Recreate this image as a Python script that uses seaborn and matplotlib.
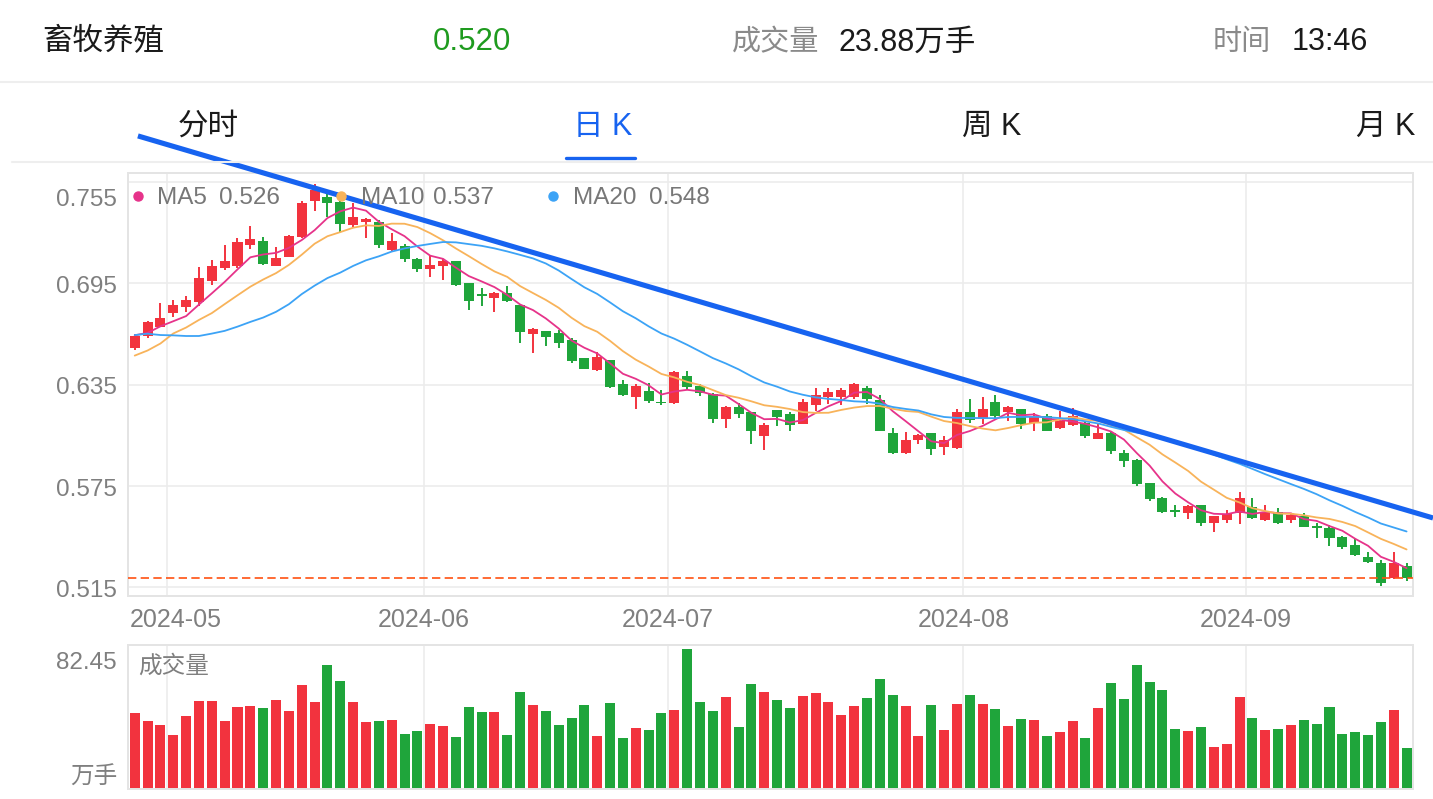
import numpy as np
import pandas as pd
import matplotlib
matplotlib.use("Agg")
import matplotlib.pyplot as plt
import seaborn as sns
from matplotlib.lines import Line2D
from matplotlib.transforms import ScaledTranslation

# ---------------- data ----------------
start_date = "2024-04-26"
end_date = "2024-09-20"
holidays = ["2024-05-01", "2024-05-02", "2024-05-03", "2024-06-10", "2024-09-16", "2024-09-17"]

open_ = [0.6565, 0.664, 0.6694, 0.6774, 0.6811, 0.6837, 0.6966, 0.7044, 0.7056, 0.7175,
         0.7204, 0.7056, 0.7107, 0.7226, 0.7437, 0.7463, 0.7433, 0.7294, 0.7314, 0.7314,
         0.7149, 0.7171, 0.7095, 0.7036, 0.7056, 0.7085, 0.6952, 0.6885, 0.6861, 0.6893,
         0.6821, 0.6649, 0.6665, 0.6655, 0.6615, 0.6506, 0.6434, 0.6494, 0.6355, 0.6275,
         0.6311, 0.6246, 0.6238, 0.6401, 0.6341, 0.6291, 0.6148, 0.6216, 0.6186, 0.6043,
         0.6196, 0.6176, 0.6117, 0.6226, 0.6277, 0.6275, 0.6275, 0.6331, 0.6256, 0.6063,
         0.5944, 0.6019, 0.6063, 0.598, 0.5974, 0.6186, 0.6143, 0.6246, 0.6186, 0.6206,
         0.6123, 0.6166, 0.6093, 0.6107, 0.6123, 0.6027, 0.6063, 0.5944, 0.5904, 0.5765,
         0.5676, 0.5603, 0.5587, 0.5636, 0.5527, 0.5547, 0.5587, 0.5622, 0.5547, 0.5591,
         0.5547, 0.5567, 0.5511, 0.5497, 0.5448, 0.5398, 0.5325, 0.5293, 0.520, 0.5273]
high = [0.665, 0.6728, 0.6831, 0.6849, 0.6873, 0.7048, 0.7089, 0.7177, 0.7218, 0.7288,
        0.7228, 0.7165, 0.7236, 0.7439, 0.7538, 0.7478, 0.7443, 0.7427, 0.7338, 0.7324,
        0.7248, 0.7185, 0.7099, 0.7119, 0.7095, 0.7085, 0.6952, 0.6921, 0.6901, 0.6937,
        0.6821, 0.6688, 0.6665, 0.6675, 0.6625, 0.651, 0.6543, 0.6496, 0.6375, 0.6351,
        0.6361, 0.6317, 0.643, 0.643, 0.6351, 0.6297, 0.6222, 0.6242, 0.6186, 0.6123,
        0.6196, 0.6186, 0.6262, 0.6331, 0.6331, 0.6331, 0.6361, 0.6341, 0.6285, 0.6093,
        0.6069, 0.6057, 0.6063, 0.6043, 0.6202, 0.6266, 0.6277, 0.6285, 0.6222, 0.6206,
        0.6182, 0.6172, 0.6192, 0.6212, 0.6133, 0.6113, 0.6073, 0.596, 0.5908, 0.5765,
        0.568, 0.5636, 0.5636, 0.5636, 0.5571, 0.5607, 0.571, 0.5676, 0.5636, 0.5616,
        0.5587, 0.5587, 0.5527, 0.5517, 0.5452, 0.5432, 0.5358, 0.5309, 0.5358, 0.5289]
low = [0.6555, 0.6623, 0.669, 0.6752, 0.6782, 0.6817, 0.694, 0.703, 0.7042, 0.7153,
       0.7062, 0.7054, 0.7105, 0.722, 0.7379, 0.7343, 0.7254, 0.7284, 0.722, 0.7161,
       0.7135, 0.7079, 0.702, 0.699, 0.697, 0.6933, 0.6792, 0.6813, 0.6782, 0.6841,
       0.6599, 0.6539, 0.6579, 0.6569, 0.648, 0.644, 0.643, 0.6329, 0.6281, 0.6202,
       0.6242, 0.6226, 0.6234, 0.6317, 0.6281, 0.6123, 0.6093, 0.6152, 0.5994, 0.5964,
       0.6103, 0.6073, 0.6113, 0.6192, 0.6232, 0.6226, 0.6262, 0.6232, 0.6073, 0.594,
       0.594, 0.5994, 0.5934, 0.5934, 0.597, 0.6123, 0.6113, 0.6146, 0.6133, 0.6083,
       0.6073, 0.6073, 0.6083, 0.6103, 0.6033, 0.6025, 0.594, 0.586, 0.575, 0.566,
       0.5587, 0.5561, 0.5551, 0.5511, 0.5472, 0.5527, 0.5523, 0.5551, 0.5543, 0.5523,
       0.5531, 0.5503, 0.5442, 0.5392, 0.5372, 0.5333, 0.5293, 0.5154, 0.5194, 0.5186]
close = [0.664, 0.6722, 0.6744, 0.6821, 0.6853, 0.6982, 0.7054, 0.7083, 0.7193, 0.7212,
         0.7066, 0.7101, 0.7232, 0.7425, 0.7504, 0.7427, 0.730, 0.7343, 0.7334, 0.7175,
         0.7204, 0.7095, 0.7036, 0.7062, 0.7081, 0.6942, 0.6847, 0.6877, 0.6893, 0.6847,
         0.6659, 0.6682, 0.6629, 0.6595, 0.649, 0.6444, 0.6514, 0.6335, 0.6285, 0.6341,
         0.6252, 0.624, 0.6424, 0.6335, 0.6297, 0.6148, 0.6216, 0.6176, 0.6073, 0.6107,
         0.6158, 0.6109, 0.6246, 0.6285, 0.6305, 0.6317, 0.6355, 0.6266, 0.6077, 0.5944,
         0.6023, 0.6053, 0.5968, 0.6023, 0.6186, 0.6139, 0.6206, 0.6162, 0.6216, 0.6113,
         0.6166, 0.6077, 0.6133, 0.6162, 0.6043, 0.6063, 0.5954, 0.5894, 0.5761, 0.5672,
         0.5593, 0.5595, 0.5632, 0.5527, 0.5567, 0.5581, 0.5676, 0.5557, 0.5591, 0.5527,
         0.5577, 0.5507, 0.5501, 0.5438, 0.5388, 0.5339, 0.5299, 0.5174, 0.5289, 0.520]
volume = [44.7, 39.8, 37.5, 31.5, 42.8, 51.9, 51.9, 40.0, 48.3, 48.7,
          47.4, 52.1, 45.6, 61.3, 51.3, 73.0, 63.3, 51.3, 39.4, 39.8,
          40.2, 32.1, 33.7, 37.9, 36.9, 30.5, 47.9, 45.0, 45.2, 31.5,
          57.2, 49.5, 45.9, 37.3, 41.6, 49.5, 31.1, 50.5, 29.8, 35.7,
          34.5, 44.6, 46.3, 82.45, 50.9, 45.7, 54.0, 36.1, 61.7, 57.0,
          52.5, 47.7, 54.6, 56.6, 50.9, 43.2, 48.9, 53.6, 64.5, 55.4,
          48.5, 30.8, 49.1, 34.5, 50.1, 55.0, 49.7, 47.1, 36.9, 41.0,
          40.4, 31.0, 33.5, 40.0, 30.0, 47.4, 62.3, 52.7, 73.2, 63.1,
          58.4, 35.1, 33.7, 36.3, 24.6, 26.2, 54.0, 41.6, 34.5, 34.9,
          37.5, 40.2, 37.9, 48.1, 32.0, 33.3, 31.4, 39.4, 46.3, 23.88]
# closes before the visible window (estimated from the MA curves at the left edge)
prior_close = [0.656, 0.690, 0.686, 0.693, 0.698, 0.677, 0.676, 0.669, 0.665, 0.655,
               0.642, 0.633, 0.6225, 0.650, 0.653, 0.665, 0.655, 0.667, 0.670]
ma_windows = [5, 10, 20]
ma_names = ["MA5", "MA10", "MA20"]
y_ticks = [0.515, 0.575, 0.635, 0.695, 0.755]
last_price = 0.520
trend_x = [0.25, 101.06]
trend_y = [0.7825, 0.5558]

header_name = "畜牧养殖"
header_price = "0.520"
header_vol_label = "成交量"
header_vol = "23.88万手"
header_time_label = "时间"
header_time = "13:46"
tabs = ["分时", "日 K", "周 K", "月 K"]
vol_top_label = "82.45"
vol_unit = "万手"
vol_title = "成交量"

# ---------------- styling ----------------
W, H = 1433, 799
sns.set_theme(style="white")
plt.rcParams["font.family"] = ["Liberation Sans", "Noto Sans CJK SC", "DejaVu Sans"]

RED = "#F2333E"
GREEN = "#1FA53B"
MA_COLORS = ["#E6338A", "#F8B35A", "#3CA3F6"]
GRID = "#ececec"
FRAME = "#e4e4e4"
GRAY = "#7f7f7f"
BLUE = "#1763F0"


def fx(px):
    return px / W


def fy(py):
    return 1 - py / H


days = pd.bdate_range(start_date, end_date)
days = days[~days.isin(pd.to_datetime(holidays))]
n = len(close)
idx = np.arange(n)
o = np.array(open_); c = np.array(close); h = np.array(high); l = np.array(low)
up = c >= o
colors = np.where(up, RED, GREEN)

all_close = pd.Series(prior_close + close)
mas = [all_close.rolling(w).mean().to_numpy()[-n:] for w in ma_windows]

month_pos = [i for i in range(1, n) if days[i].month != days[i - 1].month]
month_lab = [days[i].strftime("%Y-%m") for i in month_pos]
grid_x = [p - 0.5 for p in month_pos]

fig = plt.figure(figsize=(W / 100, H / 100), dpi=100)
fig.patch.set_facecolor("white")

# ---------------- main candle axes ----------------
L, R = 128.3, 1413
ax = fig.add_axes([fx(L), fy(596), fx(R) - fx(L), (596 - 173) / H])
ax.set_xlim(-0.5, n - 0.5)
ax.set_ylim(0.5095, 0.7605)

ax.vlines(idx, l, h, colors=colors, lw=1.4, zorder=2)
body_h = np.maximum(np.abs(c - o), 0.0006)
ax.bar(idx, body_h, bottom=np.minimum(o, c), width=0.78, color=colors, lw=0, zorder=3)

for ma, col in zip(mas, MA_COLORS):
    sns.lineplot(x=idx, y=ma, color=col, lw=1.3, ax=ax, legend=False, zorder=4)

ax.axhline(last_price, color="#FF5212", lw=1.2, ls=(0, (5.0, 2.6)), zorder=5)
ax.plot(trend_x, trend_y, color=BLUE, lw=3.7, solid_capstyle="butt", clip_on=False, zorder=10)

ax.set_yticks(y_ticks)
ax.set_yticklabels([f"{v:.3f}" for v in y_ticks])
ax.set_xticks(grid_x)
ax.set_xticklabels(month_lab)
ax.tick_params(axis="y", length=0, pad=8, labelsize=17.5, labelcolor=GRAY)
ax.tick_params(axis="x", length=0, pad=8.5, labelsize=18, labelcolor=GRAY)
ax.grid(True, color=GRID, lw=1.2)
ax.set_axisbelow(True)
for s in ax.spines.values():
    s.set_color(FRAME)
    s.set_linewidth(1.4)
ax.set_xlabel("")
ax.set_ylabel("")

top_lab = ax.get_yticklabels()[-1]
top_lab.set_verticalalignment("top")
top_lab.set_transform(top_lab.get_transform() + ScaledTranslation(0, -0.07, fig.dpi_scale_trans))
for lab in ax.get_yticklabels()[:-1]:
    lab.set_transform(lab.get_transform() + ScaledTranslation(0, -0.015, fig.dpi_scale_trans))
first_x = ax.get_xticklabels()[0]
first_x.set_horizontalalignment("left")
first_x.set_transform(first_x.get_transform() + ScaledTranslation(-0.368, 0, fig.dpi_scale_trans))

# legend
leg_y = 198.5
leg_items = [(138, 157, 219), (341, 361, 433), (553, 573, 649)]
for (dx, tx, vx), name, ma, col in zip(leg_items, ma_names, mas, MA_COLORS):
    fig.add_artist(Line2D([fx(dx)], [fy(196)], marker="o", ms=6.5, color=col, lw=0, zorder=6))
    fig.text(fx(tx), fy(leg_y), name, fontsize=17.5, color="#777777", va="center", ha="left", zorder=6)
    fig.text(fx(vx), fy(leg_y), f"{ma[-1]:.3f}", fontsize=17.5, color="#777777", va="center", ha="left", zorder=6)

# ---------------- volume axes ----------------
axv = fig.add_axes([fx(L), fy(788.5), fx(R) - fx(L), (788.5 - 645) / H])
dir_lab = np.where(up, "up", "down")
sns.barplot(x=idx, y=volume, hue=dir_lab, palette={"up": RED, "down": GREEN},
            dodge=False, width=0.78, native_scale=True, legend=False,
            errorbar=None, ax=axv, linewidth=0, saturation=1)
axv.set_xlim(-0.5, n - 0.5)
axv.set_ylim(0, 84.8)
axv.set_xticks(grid_x)
axv.set_xticklabels([])
axv.set_yticks([])
axv.tick_params(length=0)
axv.grid(True, axis="x", color=GRID, lw=1.2)
axv.set_axisbelow(True)
for s in axv.spines.values():
    s.set_color(FRAME)
    s.set_linewidth(1.4)
axv.set_xlabel("")
axv.set_ylabel("")
fig.text(fx(117), fy(663), vol_top_label, fontsize=17.5, color=GRAY, ha="right", va="center")
fig.text(fx(117), fy(778), vol_unit, fontsize=17, color=GRAY, ha="right", va="center")
fig.text(fx(138), fy(666), vol_title, fontsize=17, color=GRAY, ha="left", va="center")

# ---------------- header ----------------
hy = 42.5
fig.text(fx(42), fy(hy), header_name, fontsize=22, color="#1a1a1a", ha="left", va="center")
fig.text(fx(472), fy(hy), header_price, fontsize=22.5, color="#1f9b1f", ha="center", va="center")
fig.text(fx(732), fy(hy), header_vol_label, fontsize=21, color="#8a8a8a", ha="left", va="center")
fig.text(fx(838), fy(hy), header_vol, fontsize=22, color="#1a1a1a", ha="left", va="center")
fig.text(fx(1213), fy(hy), header_time_label, fontsize=21, color="#8a8a8a", ha="left", va="center")
fig.text(fx(1292), fy(hy), header_time, fontsize=22, color="#1a1a1a", ha="left", va="center")
fig.add_artist(Line2D([0, 1], [fy(82), fy(82)], color="#eeeeee", lw=1.5))

tab_x = [208, 603, 992, 1386]
for t, tx in zip(tabs, tab_x):
    col = BLUE if t == tabs[1] else "#1a1a1a"
    fig.text(fx(tx), fy(127), t, fontsize=22, color=col, ha="center", va="center")
fig.add_artist(Line2D([fx(566), fx(635)], [fy(158), fy(158)], color=BLUE, lw=2.4))
fig.add_artist(Line2D([fx(12), 1], [fy(161.5), fy(161.5)], color="#eeeeee", lw=1.5))

fig.savefig("out.png", dpi=100)
